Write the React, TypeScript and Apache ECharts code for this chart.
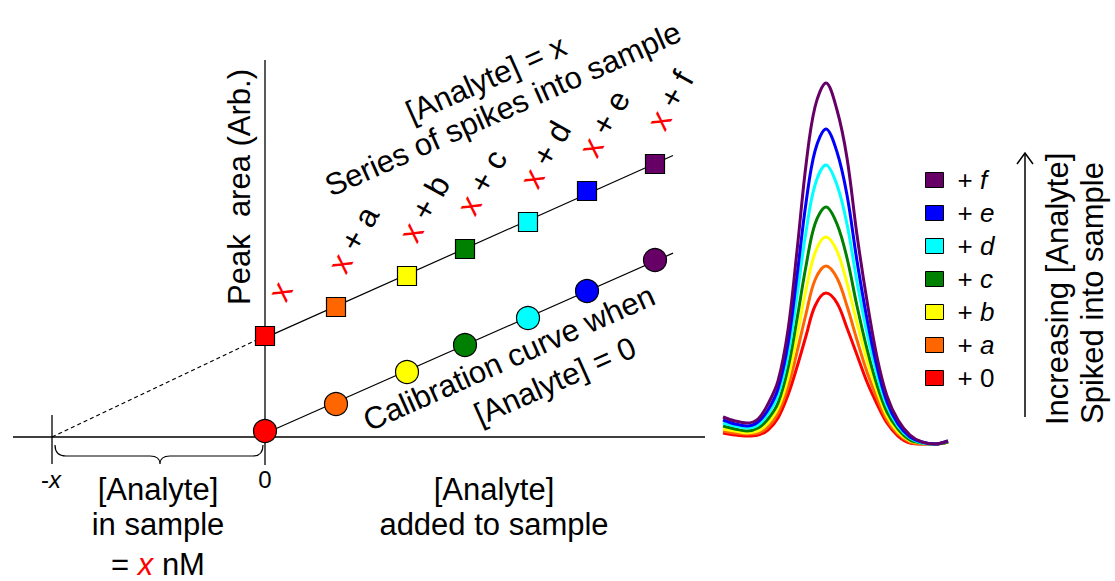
import React, { useEffect, useRef } from "react";
import * as echarts from "echarts";

// ---------- data ----------
const spikeNames = ["+ 0", "+ a", "+ b", "+ c", "+ d", "+ e", "+ f"];
const spikeLetters = ["", "a", "b", "c", "d", "e", "f"];
const spikeColors = ["#FF0000", "#FF6600", "#FFFF00", "#008000", "#00FFFF", "#0000FF", "#660066"];
const addedAnalyte = [0, 71, 142, 200, 263, 322, 390];
const sampleArea = [101, 130, 161, 188, 215, 246, 273];
const blankArea = [6, 33, 65, 92, 119, 146, 177];
const sampleConc = 213; // "x"
const fitLineEnd = 408;

const retention = [723, 735, 747, 758, 768, 778, 788, 797, 806, 815, 826, 837, 847, 857, 867, 877, 887, 898, 910, 922, 935, 948];
const peak0 = [11, 9, 8, 9, 14, 26, 49, 77, 108, 138, 151, 141, 116, 89, 62, 40, 21, 8, 1, 0, 0, 2];
const peakA = [13, 11, 10, 11, 17, 31, 57, 92, 130, 164, 178, 166, 138, 104, 72, 46, 24, 10, 2, 0, 0, 2];
const peakB = [15, 13, 11, 13, 21, 36, 66, 108, 154, 191, 207, 193, 161, 121, 84, 53, 28, 12, 3, 1, 0, 2];
const peakC = [18, 15, 13, 16, 25, 41, 76, 125, 178, 220, 237, 220, 186, 138, 95, 59, 32, 15, 4, 1, 0, 2];
const peakD = [21, 18, 16, 19, 30, 49, 89, 148, 212, 259, 279, 259, 220, 162, 111, 69, 38, 18, 6, 1, 0, 3];
const peakE = [24, 20, 18, 22, 34, 55, 100, 168, 241, 293, 315, 292, 249, 183, 125, 77, 42, 20, 7, 2, 0, 3];
const peakF = [27, 23, 21, 25, 40, 63, 114, 193, 279, 337, 361, 334, 286, 209, 143, 87, 48, 24, 9, 2, 0, 3];
const peaks = [peak0, peakA, peakB, peakC, peakD, peakE, peakF];

// ---------- helpers ----------
const FONT = "'Liberation Sans', Arial, Helvetica, sans-serif";
const ANG = (24 * Math.PI) / 180;

function fit(xs: number[], ys: number[]) {
  const n = xs.length;
  const mx = xs.reduce((a, b) => a + b, 0) / n;
  const my = ys.reduce((a, b) => a + b, 0) / n;
  let sxy = 0, sxx = 0;
  for (let i = 0; i < n; i++) {
    sxy += (xs[i] - mx) * (ys[i] - my);
    sxx += (xs[i] - mx) * (xs[i] - mx);
  }
  const slope = sxy / sxx;
  return { slope, intercept: my - slope * mx };
}

const BRACE =
  "M55 445 Q55 456 66 456 L150 456 Q160 456 160 464 Q160 456 170 456 L253 456 Q263 456 263 445";
echarts.graphic.registerShape("brace", echarts.graphic.extendPath(BRACE, {}));

function txt(text: string, x: number, y: number, opts: any = {}) {
  const align = opts.align || "center";
  return {
    type: "text",
    x,
    y,
    rotation: opts.rotation || 0,
    silent: true,
    style: {
      text,
      fontSize: opts.fontSize || 31,
      fontFamily: FONT,
      fill: "#000",
      align,
      verticalAlign: "middle",
      textAlign: align,
      textVerticalAlign: "middle",
      rich: opts.rich,
    },
  };
}

function buildOption() {
  const fs = fit(addedAnalyte, sampleArea);
  const fb = fit(addedAnalyte, blankArea);
  const blackLine = (data: number[][], extra: any = {}) => ({
    type: "line",
    xAxisIndex: 0,
    yAxisIndex: 0,
    data,
    symbol: "none",
    silent: true,
    z: 1,
    lineStyle: { color: "#000", width: 1.3, ...extra },
  });

  const redRich = { r: { fill: "#FF0000", color: "#FF0000", fontStyle: "italic", fontSize: 31, fontFamily: FONT } };
  const itRich = { i: { fill: "#000", color: "#000", fontStyle: "italic", fontSize: 24, fontFamily: FONT } };

  return {
    animation: false,
    backgroundColor: "#fff",
    grid: [
      { left: 13, top: 0, width: 692, height: 581 },
      { left: 700, top: 0, width: 415, height: 581 },
    ],
    xAxis: [
      { gridIndex: 0, type: "value", min: -252, max: 440, show: false },
      { gridIndex: 1, type: "value", min: 700, max: 1115, show: false },
    ],
    yAxis: [
      { gridIndex: 0, type: "value", min: -144, max: 437, show: false },
      { gridIndex: 1, type: "value", min: -137, max: 444, show: false },
    ],
    legend: {
      orient: "vertical",
      left: 925,
      top: 167,
      padding: 0,
      itemWidth: 18,
      itemHeight: 15,
      itemGap: 7,
      icon: "rect",
      selectedMode: false,
      data: [...spikeNames].reverse(),
      itemStyle: { borderColor: "#000", borderWidth: 1 },
      formatter: (name: string) => {
        const l = name.slice(2);
        return l === "0" ? "+ 0" : "+ {i|" + l + "}";
      },
      textStyle: {
        fontSize: 26,
        fontFamily: FONT,
        color: "#000",
        padding: [0, 0, 0, 9],
        rich: { i: { fontStyle: "italic", fontSize: 26, fontFamily: FONT, color: "#000" } },
      },
    },
    series: [
      blackLine([[-252, 0], [440, 0]]),
      blackLine([[0, -28], [0, 377]]),
      blackLine([[-sampleConc, -27], [-sampleConc, 22]]),
      blackLine([[-sampleConc, 0], [0, sampleArea[0]]], { type: [4, 3], width: 1.2 }),
      blackLine([[0, fs.intercept], [fitLineEnd, fs.intercept + fs.slope * fitLineEnd]], { width: 1.2 }),
      blackLine([[0, fb.intercept], [fitLineEnd, fb.intercept + fb.slope * fitLineEnd]], { width: 1.2 }),
      {
        type: "scatter",
        xAxisIndex: 0,
        yAxisIndex: 0,
        symbol: "circle",
        symbolSize: 23,
        z: 5,
        silent: true,
        itemStyle: { borderColor: "#000", borderWidth: 1.2, opacity: 1 },
        data: addedAnalyte.map((x, i) => ({ value: [x, blankArea[i]], itemStyle: { color: spikeColors[i] } })),
      },
      {
        type: "scatter",
        xAxisIndex: 0,
        yAxisIndex: 0,
        symbol: "rect",
        symbolSize: 19,
        z: 5,
        silent: true,
        itemStyle: { borderColor: "#000", borderWidth: 1.2, opacity: 1 },
        label: {
          show: true,
          rotate: 61,
          align: "left",
          verticalAlign: "middle",
          color: "#000",
          fontSize: 32,
          fontFamily: FONT,
          formatter: (p: any) =>
            p.dataIndex === 0 ? "{r|x}" : "{r|x}{k| + " + spikeLetters[p.dataIndex] + "}",
          rich: {
            r: { color: "#FF0000", fontSize: 32, fontFamily: FONT },
            k: { color: "#000", fontSize: 32, fontFamily: FONT },
          },
        },
        data: addedAnalyte.map((x, i) => ({
          value: [x, sampleArea[i]],
          itemStyle: { color: spikeColors[i] },
          label: { position: i === 0 ? [21.5, -27.7] : [10.5, -26.7] },
        })),
      },
      ...peaks.map((arr, i) => ({
        type: "line",
        name: spikeNames[i],
        xAxisIndex: 1,
        yAxisIndex: 1,
        data: retention.map((r, j) => [r, arr[j]]),
        smooth: 0.35,
        symbol: "none",
        silent: true,
        color: spikeColors[i],
        itemStyle: { color: spikeColors[i] },
        lineStyle: { color: spikeColors[i], width: 3 },
        z: 2 + i,
      })),
    ],
    graphic: [
      { type: "brace", silent: true, style: { fill: "none", stroke: "#000", lineWidth: 1.2 } },
      txt("-{i|x}", 51, 479, { fontSize: 24, rich: itRich }),
      txt("0", 265, 479, { fontSize: 24 }),
      txt("[Analyte]", 158, 489.5),
      txt("in sample", 158, 524.5),
      txt("= {r|x} nM", 158, 564.5, { rich: redRich }),
      txt("[Analyte]", 494, 489.5),
      txt("added to sample", 494, 524.5),
      txt("Peak  area (Arb.)", 239.5, 305, { rotation: Math.PI / 2, align: "left" }),
      txt("[Analyte] = x", 486, 79, { rotation: ANG }),
      txt("Series of spikes into sample", 503, 109, { rotation: ANG }),
      txt("Calibration curve when", 509, 358, { rotation: ANG }),
      txt("[Analyte] = 0", 555, 381, { rotation: ANG }),
      txt("Increasing [Analyte]", 1057, 425, { rotation: Math.PI / 2, align: "left" }),
      txt("Spiked into sample", 1092, 424, { rotation: Math.PI / 2, align: "left" }),
      {
        type: "line",
        silent: true,
        shape: { x1: 1025, y1: 417, x2: 1025, y2: 153 },
        style: { stroke: "#000", lineWidth: 1.5 },
      },
      {
        type: "polyline",
        silent: true,
        shape: { points: [[1017, 164], [1025, 153], [1033, 164]] },
        style: { stroke: "#000", lineWidth: 1.5, fill: "none" },
      },
    ],
  };
}

export default function App() {
  const ref = useRef<HTMLDivElement>(null);
  useEffect(() => {
    const chart = echarts.init(ref.current!, null, { renderer: "svg" });
    chart.setOption(buildOption() as any);
    return () => chart.dispose();
  }, []);
  return (
    <div
      ref={ref}
      style={{ position: "absolute", left: 0, top: 0, width: 1115, height: 581, background: "#fff" }}
    />
  );
}
